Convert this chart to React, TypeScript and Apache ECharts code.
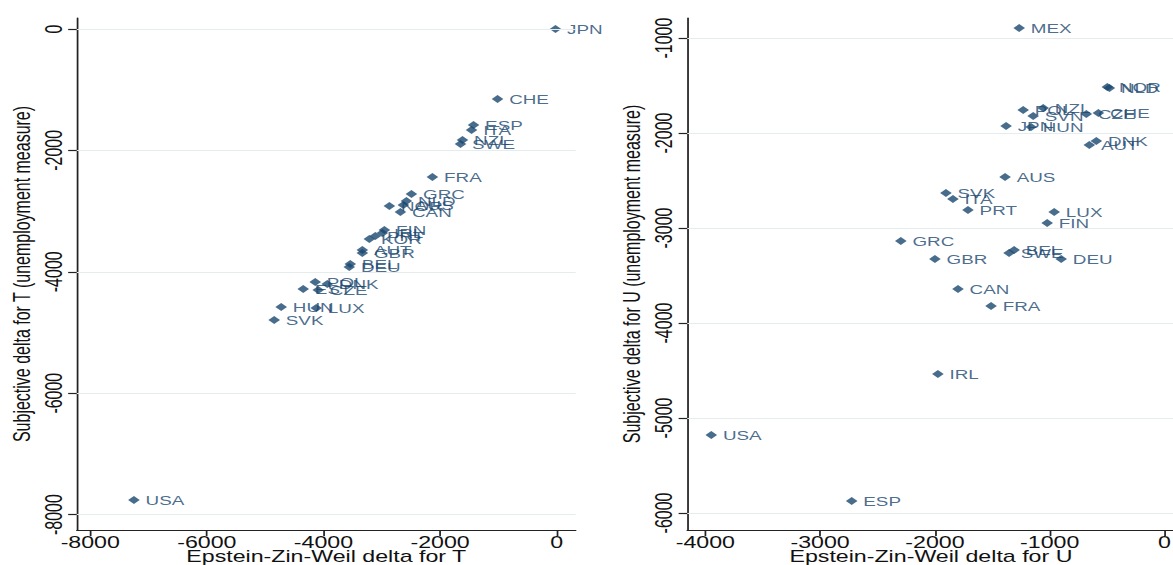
import React, { useEffect, useRef } from "react";
import * as echarts from "echarts";

// ---- Left panel: T ----
const leftNames = ["JPN","CHE","ESP","ITA","NZL","SWE","FRA","GRC","NLD","AUS","NOR","CAN","FIN","IRL","PRT","KOR","AUT","GBR","BEL","DEU","POL","DNK","EST","CZE","HUN","LUX","SVK","USA"];
const leftX = [-20,-1014,-1426,-1460,-1615,-1649,-2131,-2491,-2577,-2629,-2869,-2680,-2955,-2990,-3110,-3213,-3333,-3333,-3540,-3557,-4141,-3935,-4347,-4089,-4725,-4124,-4845,-7251];
const leftY = [0,-1153,-1582,-1664,-1829,-1895,-2438,-2718,-2834,-2900,-2916,-3015,-3311,-3361,-3410,-3460,-3641,-3690,-3871,-3921,-4168,-4201,-4283,-4300,-4580,-4596,-4794,-7760];
const leftXTicks = [-8000,-6000,-4000,-2000,0];
const leftYTicks = [0,-2000,-4000,-6000,-8000];

// ---- Right panel: U ----
const rightNames = ["MEX","NOR","NLD","POL","NZL","SVN","CZE","CHE","JPN","HUN","DNK","AUT","AUS","SVK","ITA","PRT","LUX","FIN","GRC","BEL","SWE","DEU","GBR","CAN","FRA","IRL","USA","ESP"];
const rightX = [-1266,-498,-480,-1231,-1057,-1144,-681,-576,-1380,-1162,-594,-655,-1389,-1904,-1843,-1712,-961,-1022,-2297,-1310,-1354,-900,-2000,-1799,-1511,-1974,-3948,-2725];
const rightY = [-895,-1516,-1526,-1758,-1737,-1821,-1800,-1789,-1926,-1937,-2084,-2126,-2463,-2632,-2695,-2810,-2832,-2947,-3137,-3232,-3263,-3326,-3326,-3642,-3821,-4537,-5179,-5874];
const rightXTicks = [-4000,-3000,-2000,-1000,0];
const rightYTicks = [-1000,-2000,-3000,-4000,-5000,-6000];

const STRETCH = 1.45;
const PAGE_W = 1173;
const PAGE_H = 565;
const CHART_W = PAGE_W / STRETCH;

const NAVY = "#1a476f";
const FONT = "Liberation Sans, Arial, sans-serif";

function pts(names: string[], xs: number[], ys: number[]) {
  return names.map((n, i) => ({ name: n, value: [xs[i], ys[i]] }));
}

function axisCommon(ticks: number[], rotate: number, margin: number) {
  return {
    type: "value" as const,
    axisLine: { show: true, onZero: false, lineStyle: { color: "#222", width: 1.2 } },
    axisTick: { show: true, customValues: ticks, length: 6, lineStyle: { color: "#222", width: 1.2 } },
    axisLabel: {
      customValues: ticks,
      formatter: (v: number) => String(v),
      rotate,
      color: "#111",
      fontSize: 16,
      fontFamily: FONT,
      margin,
    },
    splitLine: { show: false },
    nameLocation: "middle" as const,
    nameMoveOverlap: false,
    nameTextStyle: { color: "#111", fontSize: 16, fontFamily: FONT },
  };
}

export default function App() {
  const ref = useRef<HTMLDivElement>(null);
  useEffect(() => {
    if (!ref.current) return;
    const chart = echarts.init(ref.current, null, { renderer: "svg" });
    const gridSeries = (idx: number, ticks: number[]) => ({
      type: "scatter",
      xAxisIndex: idx,
      yAxisIndex: idx,
      data: [],
      z: 1,
      silent: true,
      markLine: {
        silent: true,
        symbol: ["none", "none"],
        label: { show: false },
        lineStyle: { color: "#e4ecee", width: 1, type: "solid" },
        data: ticks.map((t) => ({ yAxis: t })),
      },
    });
    const pointSeries = (idx: number, data: any[]) => ({
      type: "scatter",
      xAxisIndex: idx,
      yAxisIndex: idx,
      data,
      z: 3,
      symbol: "diamond",
      symbolSize: [8, 8],
      itemStyle: { color: NAVY },
      label: {
        show: true,
        position: "right",
        distance: 4,
        formatter: "{b}",
        color: NAVY,
        fontSize: 13,
        fontFamily: FONT,
      },
    });
    chart.setOption({
      animation: false,
      backgroundColor: "#fff",
      grid: [
        { left: 53, top: 18, width: 344, height: 512, containLabel: false, outerBoundsMode: "none" },
        { left: 474, top: 18, width: 336, height: 512, containLabel: false, outerBoundsMode: "none" },
      ],
      xAxis: [
        { ...axisCommon(leftXTicks, 0, 4), gridIndex: 0, min: -8230, max: 326, name: "Epstein-Zin-Weil delta for T", nameGap: 18 },
        { ...axisCommon(rightXTicks, 0, 4), gridIndex: 1, min: -4157, max: 87, name: "Epstein-Zin-Weil delta for U", nameGap: 18 },
      ],
      yAxis: [
        { ...axisCommon(leftYTicks, 90, 8), gridIndex: 0, min: -8254, max: 181, name: "Subjective delta for T (unemployment measure)", nameGap: 30 },
        { ...axisCommon(rightYTicks, 90, 8), gridIndex: 1, min: -6179, max: -789, name: "Subjective delta for U (unemployment measure)", nameGap: 30 },
      ],
      series: [
        gridSeries(0, leftYTicks),
        gridSeries(1, rightYTicks),
        pointSeries(0, pts(leftNames, leftX, leftY)),
        pointSeries(1, pts(rightNames, rightX, rightY)),
      ],
    });
    return () => chart.dispose();
  }, []);
  return (
    <div style={{ position: "fixed", left: 0, top: 0, width: PAGE_W, height: PAGE_H, overflow: "hidden", background: "#fff" }}>
      <div
        ref={ref}
        style={{ width: CHART_W, height: PAGE_H, transform: `scaleX(${STRETCH})`, transformOrigin: "0 0" }}
      />
    </div>
  );
}
